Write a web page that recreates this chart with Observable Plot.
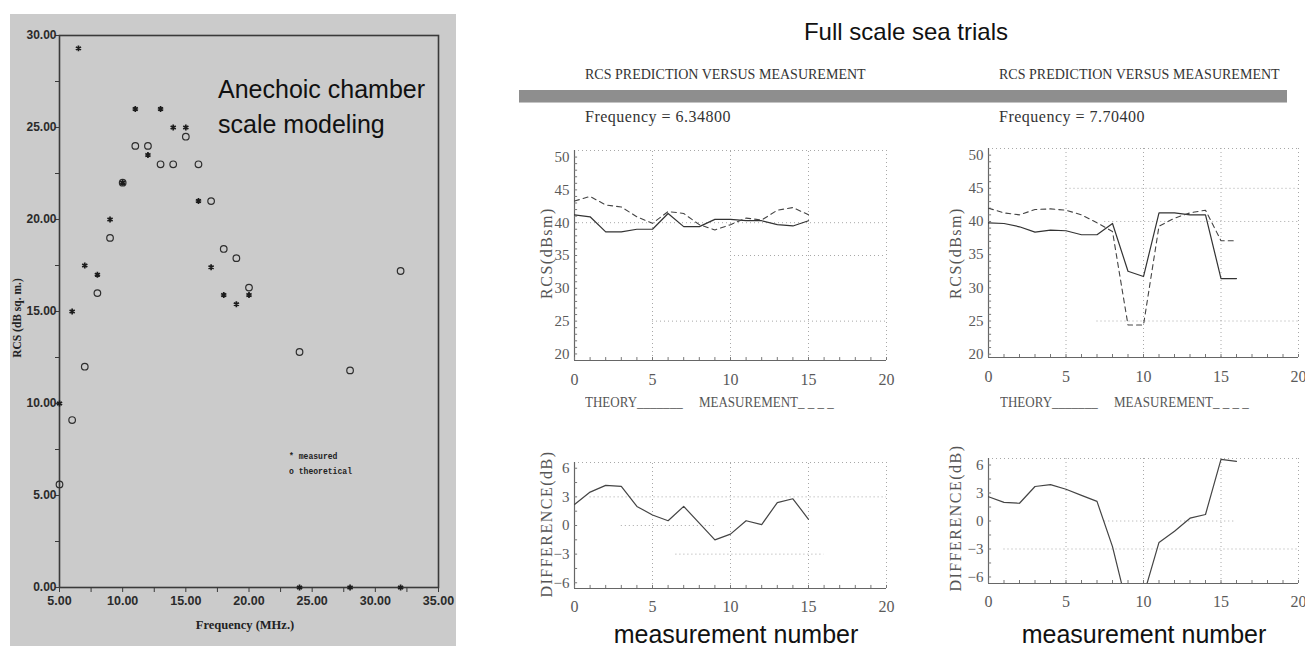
<!DOCTYPE html>
<html>
<head>
<meta charset="utf-8">
<script src="https://cdn.jsdelivr.net/npm/d3@7"></script>
<script src="https://cdn.jsdelivr.net/npm/@observablehq/plot@0.6"></script>
<style>
  html, body { margin: 0; padding: 0; background: #fff; }
  #page { position: relative; width: 1305px; height: 646px; overflow: hidden; background: #fff; }
  .abs { position: absolute; white-space: nowrap; }
  #photo { left: 10px; top: 14px; width: 446px; height: 632px; background: #cbcbcb; }
  .sans { font-family: "Liberation Sans", Arial, sans-serif; color: #111; }
  .serif { font-family: "Liberation Serif", "Times New Roman", serif; color: #333; }
  .head { font-size: 15px; line-height: 15px; transform: scaleX(0.935); transform-origin: 0 0; }
  .freq { font-size: 16px; line-height: 16px; letter-spacing: 0.5px; }
  .leg { font-size: 14px; line-height: 14px; color: #555; transform: scaleX(0.93); transform-origin: 0 0; }
  .vlab { font-size: 16px; line-height: 16px; letter-spacing: 1.5px; color: #555; transform: translate(-50%, -50%) rotate(-90deg); }
  .mono { font-family: "Liberation Mono", "DejaVu Sans Mono", monospace; font-weight: bold; font-size: 9.5px; color: #222; line-height: 15px; transform: scaleX(0.85); transform-origin: 0 0; }
</style>
</head>
<body>
<div id="page">
  <div id="photo" class="abs"></div>
  <div class="abs sans" style="left:218px; top:72px; font-size:25px; line-height:35px;">Anechoic chamber<br>scale modeling</div>
  <div class="abs mono" style="left:289px; top:449px;">* measured<br>o theoretical</div>
  <div class="abs serif" style="left:245px; top:625px; font-size:12.5px; font-weight:bold; color:#222; transform:translate(-50%,-50%);">Frequency (MHz.)</div>
  <div class="abs serif" style="left:17px; top:318px; font-size:11.5px; font-weight:bold; color:#222; transform:translate(-50%,-50%) rotate(-90deg);">RCS (dB sq. m.)</div>

  <div class="abs sans" style="left:906px; top:32px; font-size:24px; transform:translate(-50%,-50%);">Full scale sea trials</div>

  <div class="abs serif head" style="left:585px; top:67px;">RCS PREDICTION VERSUS MEASUREMENT</div>
  <div class="abs serif head" style="left:999px; top:67px;">RCS PREDICTION VERSUS MEASUREMENT</div>
  <div class="abs" style="left:519px; top:90px; width:768px; height:12px; background:#8e8e8e; border-bottom:1px solid #c4c4c4;"></div>
  <div class="abs serif freq" style="left:585px; top:109px;">Frequency = 6.34800</div>
  <div class="abs serif freq" style="left:999px; top:109px;">Frequency = 7.70400</div>

  <div class="abs serif leg" style="left:585px; top:396px;">THEORY_______&nbsp;&nbsp;&nbsp;&nbsp;&nbsp;MEASUREMENT_ _ _ _</div>
  <div class="abs serif leg" style="left:1000px; top:396px;">THEORY_______&nbsp;&nbsp;&nbsp;&nbsp;&nbsp;MEASUREMENT_ _ _ _</div>

  <div class="abs serif vlab" style="left:547px; top:253px;">RCS(dBsm)</div>
  <div class="abs serif vlab" style="left:956px; top:253px;">RCS(dBsm)</div>
  <div class="abs serif vlab" style="left:547px; top:524px;">DIFFERENCE(dB)</div>
  <div class="abs serif vlab" style="left:956px; top:518px;">DIFFERENCE(dB)</div>

  <div class="abs sans" style="left:736px; top:634px; font-size:25px; transform:translate(-50%,-50%);">measurement number</div>
  <div class="abs sans" style="left:1144px; top:634px; font-size:25px; transform:translate(-50%,-50%);">measurement number</div>
</div>

<script>
// ---------- Data: anechoic chamber scale model ----------
const freqMeasured = [5, 6, 6.5, 7, 8, 9, 10, 11, 12, 13, 14, 15, 16, 17, 18, 19, 20, 24, 28, 32];
const rcsMeasured  = [10, 15, 29.3, 17.5, 17, 20, 22, 26, 23.5, 26, 25, 25, 21, 17.4, 15.9, 15.4, 15.9, 0, 0, 0];
const freqTheory   = [5, 6, 7, 8, 9, 10, 11, 12, 13, 14, 15, 16, 17, 18, 19, 20, 24, 28, 32];
const rcsTheory    = [5.6, 9.1, 12, 16, 19, 22, 24, 24, 23, 23, 24.5, 23, 21, 18.4, 17.9, 16.3, 12.8, 11.8, 17.2];
const chamberXTicks = [5, 10, 15, 20, 25, 30, 35];
const chamberXMinor = [5, 7.5, 10, 12.5, 15, 17.5, 20, 22.5, 25, 27.5, 30, 32.5, 35];
const chamberYTicks = [0, 5, 10, 15, 20, 25, 30];
const chamberYMinor = [0, 2.5, 5, 7.5, 10, 12.5, 15, 17.5, 20, 22.5, 25, 27.5, 30];

// ---------- Data: full scale sea trials ----------
const measNo1    = [0, 1, 2, 3, 4, 5, 6, 7, 8, 9, 10, 11, 12, 13, 14, 15];
const theory1    = [41.2, 40.9, 38.6, 38.6, 39.0, 39.0, 41.4, 39.4, 39.4, 40.5, 40.5, 40.3, 40.3, 39.7, 39.5, 40.3];
const measured1  = [43.3, 44.0, 42.7, 42.4, 40.9, 39.9, 41.7, 41.4, 39.7, 38.9, 39.7, 40.7, 40.4, 41.9, 42.3, 41.2];
const diff1      = [2.2, 3.5, 4.2, 4.1, 2.0, 1.1, 0.5, 2.0, 0.25, -1.5, -0.9, 0.5, 0.1, 2.4, 2.8, 0.65];

const measNo2    = [0, 1, 2, 3, 4, 5, 6, 7, 8, 9, 10, 11, 12, 13, 14, 15, 16];
const theory2    = [39.8, 39.7, 39.2, 38.4, 38.7, 38.6, 38.0, 38.0, 39.7, 32.5, 31.7, 41.3, 41.3, 41.0, 41.0, 31.4, 31.4];
const measured2  = [42.0, 41.3, 41.0, 41.8, 41.9, 41.7, 41.0, 39.8, 38.5, 24.4, 24.4, 39.3, 40.5, 41.3, 41.7, 37.1, 37.1];
const diff2      = [2.6, 2.0, 1.9, 3.7, 3.9, 3.4, 2.75, 2.1, -2.75, -9.5, -8.0, -2.3, -1.1, 0.3, 0.7, 6.6, 6.4];

const numTicks   = [0, 5, 10, 15, 20];
const numMinor   = [0, 1, 2, 3, 4, 5, 6, 7, 8, 9, 10, 11, 12, 13, 14, 15, 16, 17, 18, 19, 20];
const rcsTicks   = [20, 25, 30, 35, 40, 45, 50];
const rcsMinor   = [20, 21, 22, 23, 24, 25, 26, 27, 28, 29, 30, 31, 32, 33, 34, 35, 36, 37, 38, 39, 40, 41, 42, 43, 44, 45, 46, 47, 48, 49, 50];
const diffTicks  = [-6, -3, 0, 3, 6];
const diffMinor  = [-6, -4.5, -3, -1.5, 0, 1.5, 3, 4.5, 6];

// dotted reference lines (value, extent along other axis)
const rcsGrid1H  = [{v: 40, from: 0, to: 20}, {v: 35, from: 10, to: 20}, {v: 25, from: 5, to: 20}];
const rcsGrid2H  = [{v: 45, from: 5, to: 20}, {v: 40, from: 7.5, to: 20}, {v: 25, from: 7, to: 20}];
const gridV      = [5, 10, 15];
const diffGrid1H = [{v: 3, from: 1, to: 20}, {v: 0, from: 3, to: 9}, {v: -3, from: 6.5, to: 16}];
const diffGrid2H = [{v: 0, from: 7.5, to: 16}, {v: -3, from: 1, to: 20}];

// ---------- helpers ----------
const page = document.getElementById("page");
function place(node, left, top) {
  node.style.position = "absolute";
  node.style.left = left + "px";
  node.style.top = top + "px";
  page.appendChild(node);
}
const SERIF = "'Liberation Serif', 'Times New Roman', serif";
const GRID = {stroke: "#a8a8a8", strokeDasharray: "1,3", strokeWidth: 1};

// ---------- left chart ----------
const measPts = freqMeasured.map((f, i) => ({f, rcs: rcsMeasured[i]}));
const theoPts = freqTheory.map((f, i) => ({f, rcs: rcsTheory[i]}));

const chamber = Plot.plot({
  width: 460, height: 646,
  marginLeft: 59, marginRight: 22, marginTop: 35, marginBottom: 59,
  style: {background: "transparent", fontFamily: "'Liberation Sans', Arial, sans-serif", overflow: "visible"},
  x: {domain: [5, 35], label: null},
  y: {domain: [0, 30], label: null},
  marks: [
    Plot.frame({stroke: "#3a3a3a", strokeWidth: 1.6}),
    Plot.axisY({ticks: chamberYMinor, tickFormat: () => "", tickSize: 4, stroke: "#3a3a3a", label: null}),
    Plot.axisY({ticks: chamberYTicks, tickFormat: d => d.toFixed(2), tickSize: 0, tickPadding: 3,
      fontSize: 12, fontWeight: "bold", fill: "#2a2a2a", label: null}),
    Plot.axisX({ticks: chamberXMinor, tickFormat: () => "", tickSize: 5, stroke: "#3a3a3a", label: null}),
    Plot.axisX({ticks: chamberXTicks, tickFormat: d => d.toFixed(2), tickSize: 0, tickPadding: 9,
      fontSize: 12.5, fontWeight: "bold", fill: "#2a2a2a", label: null}),
    Plot.dot(theoPts, {x: "f", y: "rcs", r: 3.3, stroke: "#2e2e2e", strokeWidth: 1.2, fill: "none"}),
    Plot.dot(measPts, {x: "f", y: "rcs", symbol: "asterisk", r: 2.8, stroke: "#1c1c1c", strokeWidth: 1.7})
  ]
});
place(chamber, 0, 0);

// ---------- right charts ----------
function rcsChart({nums, theory, measured, yDomain, width, height, marginLeft, marginRight, marginTop, marginBottom, hGrid}) {
  const rows = nums.map((n, i) => ({n, theory: theory[i], measured: measured[i]}));
  const [y0, y1] = yDomain;
  return Plot.plot({
    width, height, marginLeft, marginRight, marginTop, marginBottom,
    style: {background: "transparent", fontFamily: SERIF, overflow: "visible"},
    x: {domain: [0, 20], label: null},
    y: {domain: yDomain, label: null},
    marks: [
      Plot.ruleY(hGrid, {y: "v", x1: "from", x2: "to", ...GRID}),
      Plot.ruleX(gridV, {x: d => d, y1: y0, y2: y1, ...GRID}),
      Plot.ruleY([y1], GRID),
      Plot.ruleX([20], GRID),
      Plot.ruleX([0], {stroke: "#666", strokeWidth: 1.2}),
      Plot.ruleY([y0], {stroke: "#666", strokeWidth: 1.2}),
      Plot.ruleY(rcsMinor, {y: d => d, x1: 0, x2: 0.2, stroke: "#777"}),
      Plot.ruleX(numMinor, {x: d => d, y1: y0, y2: y0 + 0.45, stroke: "#777"}),
      Plot.axisY({ticks: rcsTicks, tickSize: 0, tickPadding: 5, fontSize: 15, fill: "#5a5a5a", label: null}),
      Plot.axisX({ticks: numTicks, tickSize: 0, tickPadding: 13, fontSize: 16, fill: "#5a5a5a", label: null}),
      Plot.line(rows, {x: "n", y: "theory", stroke: "#333", strokeWidth: 1.2, clip: true}),
      Plot.line(rows, {x: "n", y: "measured", stroke: "#444", strokeWidth: 1.1, strokeDasharray: "5,4", clip: true})
    ]
  });
}

function diffChart({nums, diff, yDomain, width, height, marginLeft, marginRight, marginTop, marginBottom, hGrid}) {
  const rows = nums.map((n, i) => ({n, diff: diff[i]}));
  const [y0, y1] = yDomain;
  return Plot.plot({
    width, height, marginLeft, marginRight, marginTop, marginBottom,
    style: {background: "transparent", fontFamily: SERIF, overflow: "visible"},
    x: {domain: [0, 20], label: null},
    y: {domain: yDomain, label: null},
    marks: [
      Plot.ruleY(hGrid, {y: "v", x1: "from", x2: "to", ...GRID}),
      Plot.ruleX(gridV, {x: d => d, y1: y0, y2: y1, ...GRID}),
      Plot.ruleY([y1], GRID),
      Plot.ruleX([20], GRID),
      Plot.ruleX([0], {stroke: "#666", strokeWidth: 1.2}),
      Plot.ruleY([y0], {stroke: "#666", strokeWidth: 1.2}),
      Plot.ruleY(diffMinor, {y: d => d, x1: 0, x2: 0.2, stroke: "#777"}),
      Plot.ruleX(numMinor, {x: d => d, y1: y0, y2: y0 + 0.32, stroke: "#777"}),
      Plot.axisY({ticks: diffTicks, tickSize: 0, tickPadding: 5, fontSize: 15, fill: "#5a5a5a", label: null,
        tickFormat: d => d < 0 ? "\u2212" + Math.abs(d) : String(d)}),
      Plot.axisX({ticks: numTicks, tickSize: 0, tickPadding: 12, fontSize: 16, fill: "#5a5a5a", label: null}),
      Plot.line(rows, {x: "n", y: "diff", stroke: "#444", strokeWidth: 1.2, clip: true})
    ]
  });
}

place(rcsChart({nums: measNo1, theory: theory1, measured: measured1, yDomain: [19, 51],
  width: 370, height: 260, marginLeft: 34, marginRight: 24, marginTop: 10, marginBottom: 40, hGrid: rcsGrid1H}), 540, 140);
place(rcsChart({nums: measNo2, theory: theory2, measured: measured2, yDomain: [19.5, 51],
  width: 351, height: 259, marginLeft: 34, marginRight: 7, marginTop: 10, marginBottom: 40, hGrid: rcsGrid2H}), 954, 138);
place(diffChart({nums: measNo1, diff: diff1, yDomain: [-6.6, 6.6],
  width: 370, height: 166, marginLeft: 34, marginRight: 24, marginTop: 10, marginBottom: 30, hGrid: diffGrid1H}), 540, 452);
place(diffChart({nums: measNo2, diff: diff2, yDomain: [-6.7, 6.7],
  width: 351, height: 165, marginLeft: 34, marginRight: 7, marginTop: 10, marginBottom: 30, hGrid: diffGrid2H}), 954, 448);
</script>
</body>
</html>
